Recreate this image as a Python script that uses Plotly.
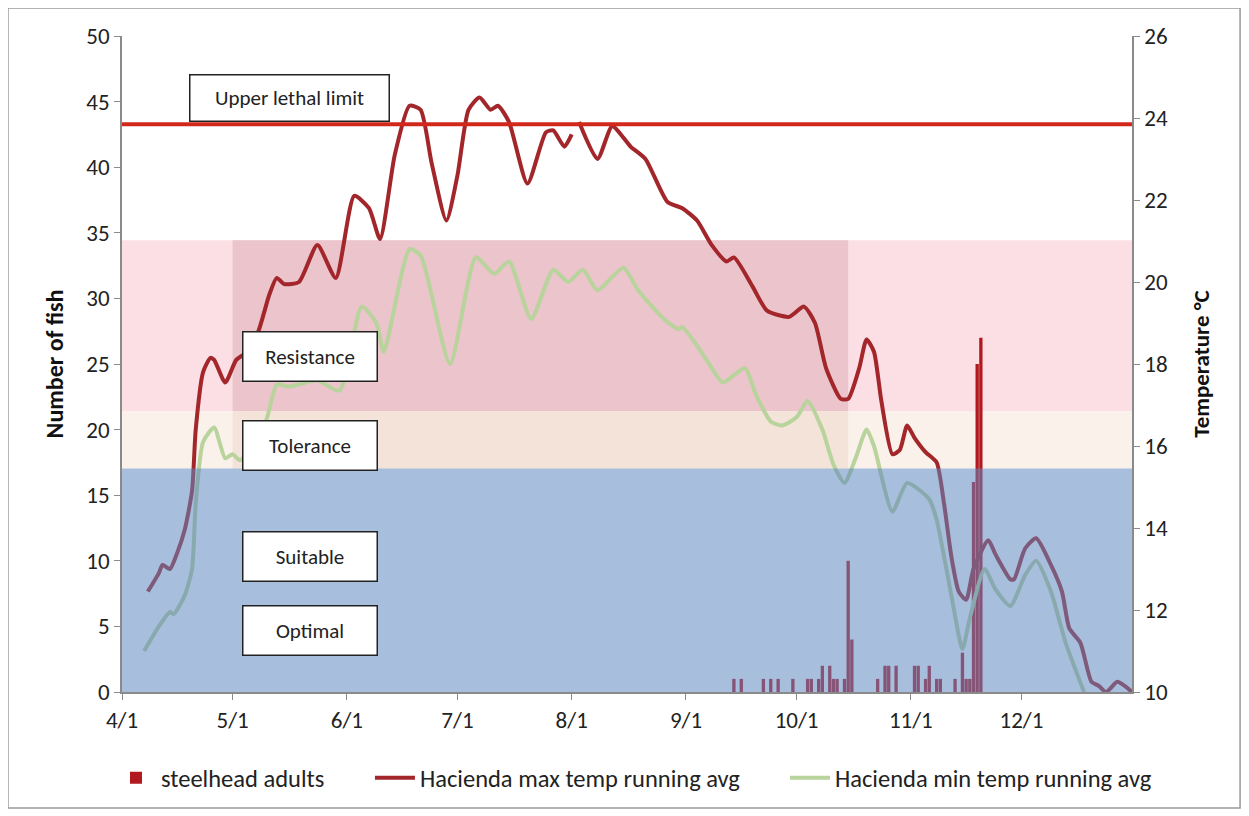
import plotly.graph_objects as go

# ---------------- data ----------------
YEAR = "2011"

max_dates = ["04-08", "04-11", "04-12", "04-14", "04-16", "04-18", "04-20", "04-21", "04-23", "04-25",
             "04-26", "04-29", "05-02", "05-05", "05-08", "05-11", "05-13", "05-15", "05-19", "05-24",
             "05-29", "06-03", "06-07", "06-10", "06-14", "06-18", "06-21", "06-24", "06-28", "07-01",
             "07-04", "07-07", "07-10", "07-12", "07-15", "07-20", "07-25", "07-27", "07-30", "08-01",
             "08-02", "08-03", "08-08", "08-12", "08-17", "08-21", "08-27", "08-31", "09-04", "09-08",
             "09-12", "09-14", "09-19", "09-23", "09-29", "10-03", "10-06", "10-09", "10-13", "10-15",
             "10-18", "10-20", "10-22", "10-24", "10-27", "10-29", "10-31", "11-02", "11-05", "11-08",
             "11-10", "11-12", "11-14", "11-16", "11-18", "11-22", "11-24", "11-28", "11-29", "12-02",
             "12-05", "12-09", "12-12", "12-14", "12-17", "12-20", "12-22", "12-24", "12-27", "12-29",
             "12-31"]
max_temp = [12.45, 12.9, 13.1, 13.0, 13.4, 13.95, 14.9, 16.4, 17.8, 18.15,
            18.1, 17.55, 18.1, 18.3, 18.8, 19.7, 20.1, 19.95, 20.0, 20.9,
            20.1, 22.1, 21.8, 21.05, 23.1, 24.3, 24.2, 22.9, 21.5, 22.6,
            24.2, 24.5, 24.2, 24.3, 23.9, 22.4, 23.65, 23.7, 23.3, 23.6,
            None, 23.9, 23.0, 23.8, 23.3, 23.0, 21.95, 21.8, 21.5, 20.9,
            20.5, 20.6, 19.9, 19.3, 19.15, 19.4, 19.0, 17.9, 17.15, 17.15,
            17.9, 18.6, 18.3, 17.1, 15.8, 15.9, 16.5, 16.2, 15.85, 15.6,
            14.6, 13.3, 12.45, 12.25, 13.0, 13.7, 13.35, 12.75, 12.75, 13.5,
            13.75, 13.1, 12.45, 11.55, 11.2, 10.25, 10.15, 10.0, 10.25, 10.15,
            10.0]

min_dates = ["04-07", "04-11", "04-14", "04-15", "04-18", "04-20", "04-21", "04-23", "04-26", "04-29",
             "05-01", "05-03", "05-10", "05-13", "05-16", "05-19", "05-24", "05-30", "06-05", "06-09",
             "06-11", "06-18", "06-21", "06-29", "07-06", "07-11", "07-15", "07-21", "07-27", "07-31",
             "08-04", "08-08", "08-15", "08-19", "08-26", "08-30", "08-31", "09-04", "09-08", "09-11",
             "09-17", "09-20", "09-24", "09-27", "10-01", "10-04", "10-08", "10-11", "10-14", "10-17",
             "10-20", "10-22", "10-27", "10-31", "11-06", "11-08", "11-12", "11-15", "11-17", "11-21",
             "11-24", "11-28", "12-02", "12-05", "12-09", "12-13", "12-18"]
min_temp = [11.0, 11.6, 11.95, 11.9, 12.35, 13.0, 14.6, 16.1, 16.45, 15.7,
            15.8, 15.65, 16.6, 17.5, 17.45, 17.5, 17.6, 17.35, 19.4, 19.0,
            18.3, 20.8, 20.65, 18.0, 20.6, 20.2, 20.5, 19.1, 20.3, 20.0,
            20.3, 19.8, 20.35, 19.8, 19.1, 18.85, 18.9, 18.45, 17.9, 17.55,
            17.9, 17.25, 16.6, 16.5, 16.7, 17.1, 16.4, 15.55, 15.1, 15.7,
            16.4, 16.0, 14.4, 15.1, 14.7, 14.2, 12.35, 11.05, 11.8, 13.0,
            12.5, 12.1, 12.85, 13.2, 12.45, 11.2, 10.0]

fish_dates = ["09-14", "09-16", "09-22", "09-24", "09-26", "09-30", "10-04", "10-05", "10-07", "10-08",
              "10-10", "10-11", "10-12", "10-14", "10-15", "10-16", "10-23", "10-25", "10-26", "10-28",
              "11-02", "11-03", "11-05", "11-06", "11-08", "11-09", "11-13", "11-15", "11-16", "11-17",
              "11-18", "11-19", "11-20"]
fish_counts = [1, 1, 1, 1, 1, 1, 1, 1, 1, 2,
               2, 1, 1, 1, 10, 4, 1, 2, 2, 2,
               2, 2, 1, 2, 1, 1, 1, 3, 1, 1,
               16, 25, 27]

month_ticks = ["04-01", "05-01", "06-01", "07-01", "08-01", "09-01", "10-01", "11-01", "12-01"]
month_labels = ["4/1", "5/1", "6/1", "7/1", "8/1", "9/1", "10/1", "11/1", "12/1"]

# thresholds (deg C)
UPPER_LETHAL = 23.85
RESIST_TOP = 21.02
TOLER_TOP = 16.85
SUIT_TOP = 15.45
SEASON_START = "05-01"
SEASON_END = "10-15"

fish_range = [0, 50]
temp_range = [10, 26]
x_range = ["04-01", "12-31"]

d = lambda s: f"{YEAR}-{s}"

FONT = "Carlito, Lato, 'Open Sans', sans-serif"
RED_LINE = "#a3262b"
GREEN_LINE = "#b9d39c"
BAR_RED = "#b2191f"
DAY_MS = 86400000

fig = go.Figure()

fig.add_trace(go.Bar(
    x=[d(s) for s in fish_dates], y=fish_counts, name="steelhead adults",
    width=DAY_MS * 0.9,
    marker=dict(color=BAR_RED, line=dict(width=0)), yaxis="y", legend="legend",
))
fig.add_trace(go.Scatter(
    x=[d(s) for s in max_dates], y=max_temp, name="Hacienda max temp running avg",
    mode="lines", line=dict(color=RED_LINE, width=4, shape="spline", smoothing=0.6),
    yaxis="y2", connectgaps=False, legend="legend2",
))
fig.add_trace(go.Scatter(
    x=[d(s) for s in min_dates], y=min_temp, name="Hacienda min temp running avg",
    mode="lines", line=dict(color=GREEN_LINE, width=4, shape="spline", smoothing=0.6),
    yaxis="y2", legend="legend3",
))

shapes = [
    dict(type="rect", xref="paper", x0=0, x1=1, yref="y2", y0=TOLER_TOP, y1=RESIST_TOP,
         fillcolor="#fbdfe5", line=dict(width=0), layer="below"),
    dict(type="rect", xref="paper", x0=0, x1=1, yref="y2", y0=SUIT_TOP, y1=TOLER_TOP,
         fillcolor="#faf1ea", line=dict(width=0), layer="below"),
    dict(type="rect", xref="x", x0=d(SEASON_START), x1=d(SEASON_END), yref="y2", y0=TOLER_TOP, y1=RESIST_TOP,
         fillcolor="#ebc4cc", line=dict(width=0), layer="below"),
    dict(type="rect", xref="x", x0=d(SEASON_START), x1=d(SEASON_END), yref="y2", y0=SUIT_TOP, y1=TOLER_TOP,
         fillcolor="#f3e3d9", line=dict(width=0), layer="below"),
    dict(type="rect", xref="paper", x0=0, x1=1, yref="y2", y0=temp_range[0], y1=SUIT_TOP,
         fillcolor="rgba(95,135,192,0.54)", line=dict(width=0), layer="above"),
    dict(type="line", xref="paper", x0=0, x1=1, yref="y2", y0=UPPER_LETHAL, y1=UPPER_LETHAL,
         line=dict(color="#d2281c", width=4), layer="above"),
    dict(type="rect", xref="paper", yref="paper", x0=-0.1129, x1=1.107, y0=-0.1768, y1=1.0427,
         line=dict(color="#9a9a9a", width=1.5), fillcolor="rgba(0,0,0,0)", layer="below"),
]

def box(text, xc, yc, w, h):
    return dict(text=text, xref="paper", yref="paper", x=xc, y=yc, xanchor="center", yanchor="middle",
                showarrow=False, width=w, height=h, bgcolor="white", bordercolor="#222222",
                borderwidth=1.5, borderpad=0, font=dict(family=FONT, size=21, color="#222222"))

annotations = [
    box("Upper lethal limit", 0.1663, 0.9055, 198, 45),
    box("Resistance", 0.1861, 0.5107, 133, 48),
    box("Tolerance", 0.1861, 0.3765, 133, 48),
    box("Suitable", 0.1861, 0.2058, 133, 48),
    box("Optimal", 0.1861, 0.0945, 133, 48),
]

AX = "#8a8a8a"
legend_common = dict(orientation="h", yanchor="middle", y=-0.131, xanchor="left",
                     font=dict(family=FONT, size=24.5, color="#222222"), bgcolor="rgba(0,0,0,0)",
                     itemwidth=40)
TICKFONT = dict(family=FONT, size=23, color="#222222")

# the page body adds an 8px offset, so margins are reduced by 8px on the top/left
fig.update_layout(
    width=1249, height=816,
    margin=dict(l=114, r=125, t=28, b=132, autoexpand=False),
    paper_bgcolor="white", plot_bgcolor="white",
    font=dict(family=FONT, size=20, color="#222222"),
    showlegend=True,
    legend=dict(legend_common, x=-0.0109),
    legend2=dict(legend_common, x=0.2455),
    legend3=dict(legend_common, x=0.6564),
    xaxis=dict(type="date", range=[d(x_range[0]), d(x_range[1])],
               tickvals=[d(s) for s in month_ticks], ticktext=month_labels,
               showline=True, linecolor=AX, linewidth=1.5, ticks="outside", ticklen=6,
               tickcolor=AX, showgrid=False, zeroline=False, ticklabelstandoff=1,
               tickfont=TICKFONT),
    yaxis=dict(range=fish_range, dtick=5, showline=True, linecolor=AX, linewidth=1.5,
               ticks="outside", ticklen=6, tickcolor=AX, showgrid=False, zeroline=False,
               tickfont=TICKFONT,
               title=dict(text="<b>Number of fish</b>", standoff=16,
                          font=dict(family=FONT, size=24, color="#111111"))),
    yaxis2=dict(range=temp_range, dtick=2, overlaying="y", side="right", showline=True,
                linecolor=AX, linewidth=1.5, ticks="outside", ticklen=6, tickcolor=AX,
                showgrid=False, zeroline=False,
                tickfont=TICKFONT,
                title=dict(text="<b>Temperature °C</b>", standoff=26,
                           font=dict(family=FONT, size=23, color="#111111"))),
    shapes=shapes,
    annotations=annotations,
)

fig.write_html("out.html")
